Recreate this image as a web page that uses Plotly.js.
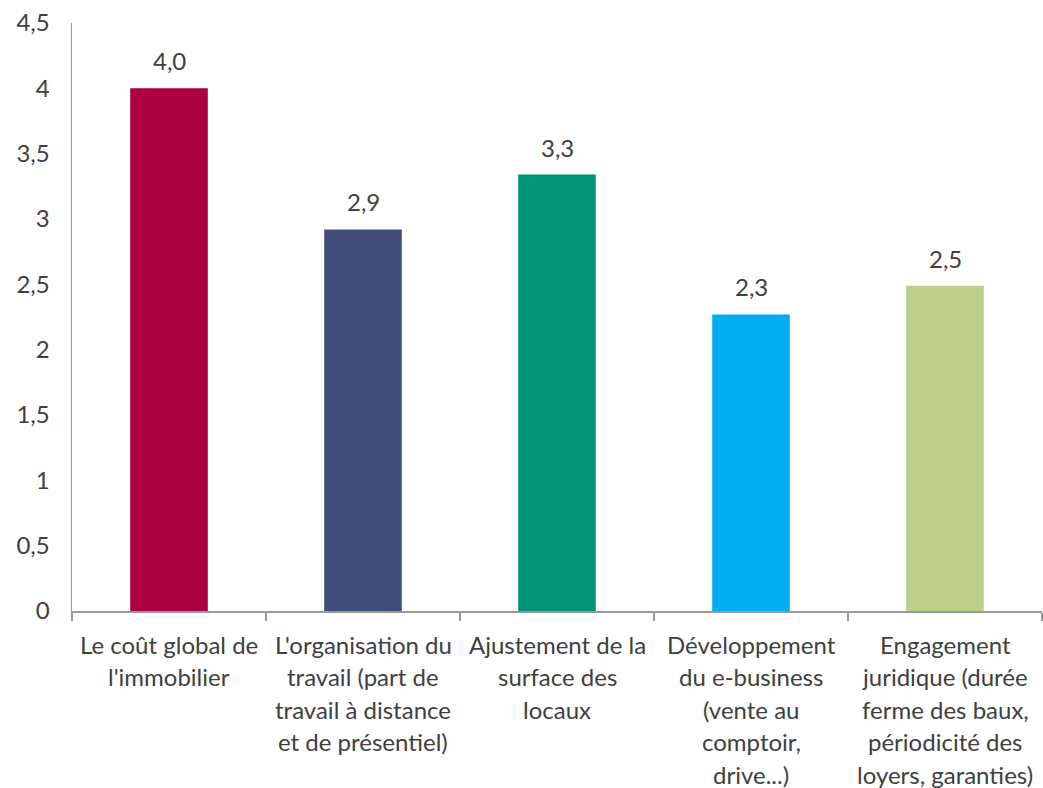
<!DOCTYPE html>
<html>
<head>
<meta charset="utf-8">
<script src="https://cdn.plot.ly/plotly-3.0.1.min.js"></script>
<style>html,body{margin:0;padding:0;background:#fff;}#chart{width:1043px;height:788px;}</style>
</head>
<body>
<div id="chart"></div>
<script>
var categoryLines = [
  ["Le coût global de", "l'immobilier"],
  ["L'organisation du", "travail (part de", "travail à distance", "et de présentiel)"],
  ["Ajustement de la", "surface des", "locaux"],
  ["Développement", "du e-business", "(vente au", "comptoir,", "drive...)"],
  ["Engagement", "juridique (durée", "ferme des baux,", "périodicité des", "loyers, garanties)"]
];
var categories = categoryLines.map(function(l){ return l.join(" "); });
var values = [4.0, 2.92, 3.34, 2.27, 2.49];
var barColors = ["#A80041", "#414D7D", "#009577", "#00AEEF", "#BCD08C"];
var yTickVals = [0, 0.5, 1, 1.5, 2, 2.5, 3, 3.5, 4, 4.5];

var FONT = "Lato, 'Open Sans', sans-serif";
var TXT = "#404040";
var FS = 24;

var annotations = [];
categoryLines.forEach(function(lines, ci){
  lines.forEach(function(line, li){
    annotations.push({
      x: categories[ci], y: 0, xref: 'x', yref: 'paper',
      text: line, showarrow: false, xanchor: 'center', yanchor: 'middle',
      yshift: -(33 + li * 32.5), borderpad: 0,
      font: {family: FONT, size: FS, color: TXT}
    });
  });
});
values.forEach(function(v, i){
  annotations.push({
    x: categories[i], y: v, xref: 'x', yref: 'y',
    text: v.toFixed(1).replace('.', ','), showarrow: false,
    xanchor: 'center', yanchor: 'bottom', yshift: 11,
    font: {family: FONT, size: FS, color: TXT}
  });
});

var data = [{
  type: 'bar',
  x: categories,
  y: values,
  marker: {color: barColors},
  hoverinfo: 'none'
}];

var layout = {
  width: 1043, height: 788,
  margin: {l: 72, r: 1, t: 23, b: 177},
  paper_bgcolor: '#fff', plot_bgcolor: '#fff',
  separators: ', ',
  bargap: 0.6,
  showlegend: false,
  font: {family: FONT, size: FS, color: TXT},
  xaxis: {
    type: 'category',
    range: [-0.5, 4.5],
    showticklabels: false,
    ticks: 'outside', tickson: 'boundaries', ticklen: 8, tickwidth: 1.5, tickcolor: '#9a9a9a',
    showline: true, linecolor: '#9a9a9a', linewidth: 1.5,
    showgrid: false, zeroline: false, fixedrange: true
  },
  yaxis: {
    range: [0, 4.5],
    tickvals: yTickVals,
    tickformat: '~r',
    ticks: '',
    ticklabelstandoff: 16,
    showline: true, linecolor: '#9a9a9a', linewidth: 1.5,
    showgrid: false, zeroline: false, fixedrange: true,
    tickfont: {family: FONT, size: FS, color: TXT}
  },
  annotations: annotations
};

Plotly.newPlot('chart', data, layout, {displayModeBar: false, staticPlot: true});
</script>
</body>
</html>
